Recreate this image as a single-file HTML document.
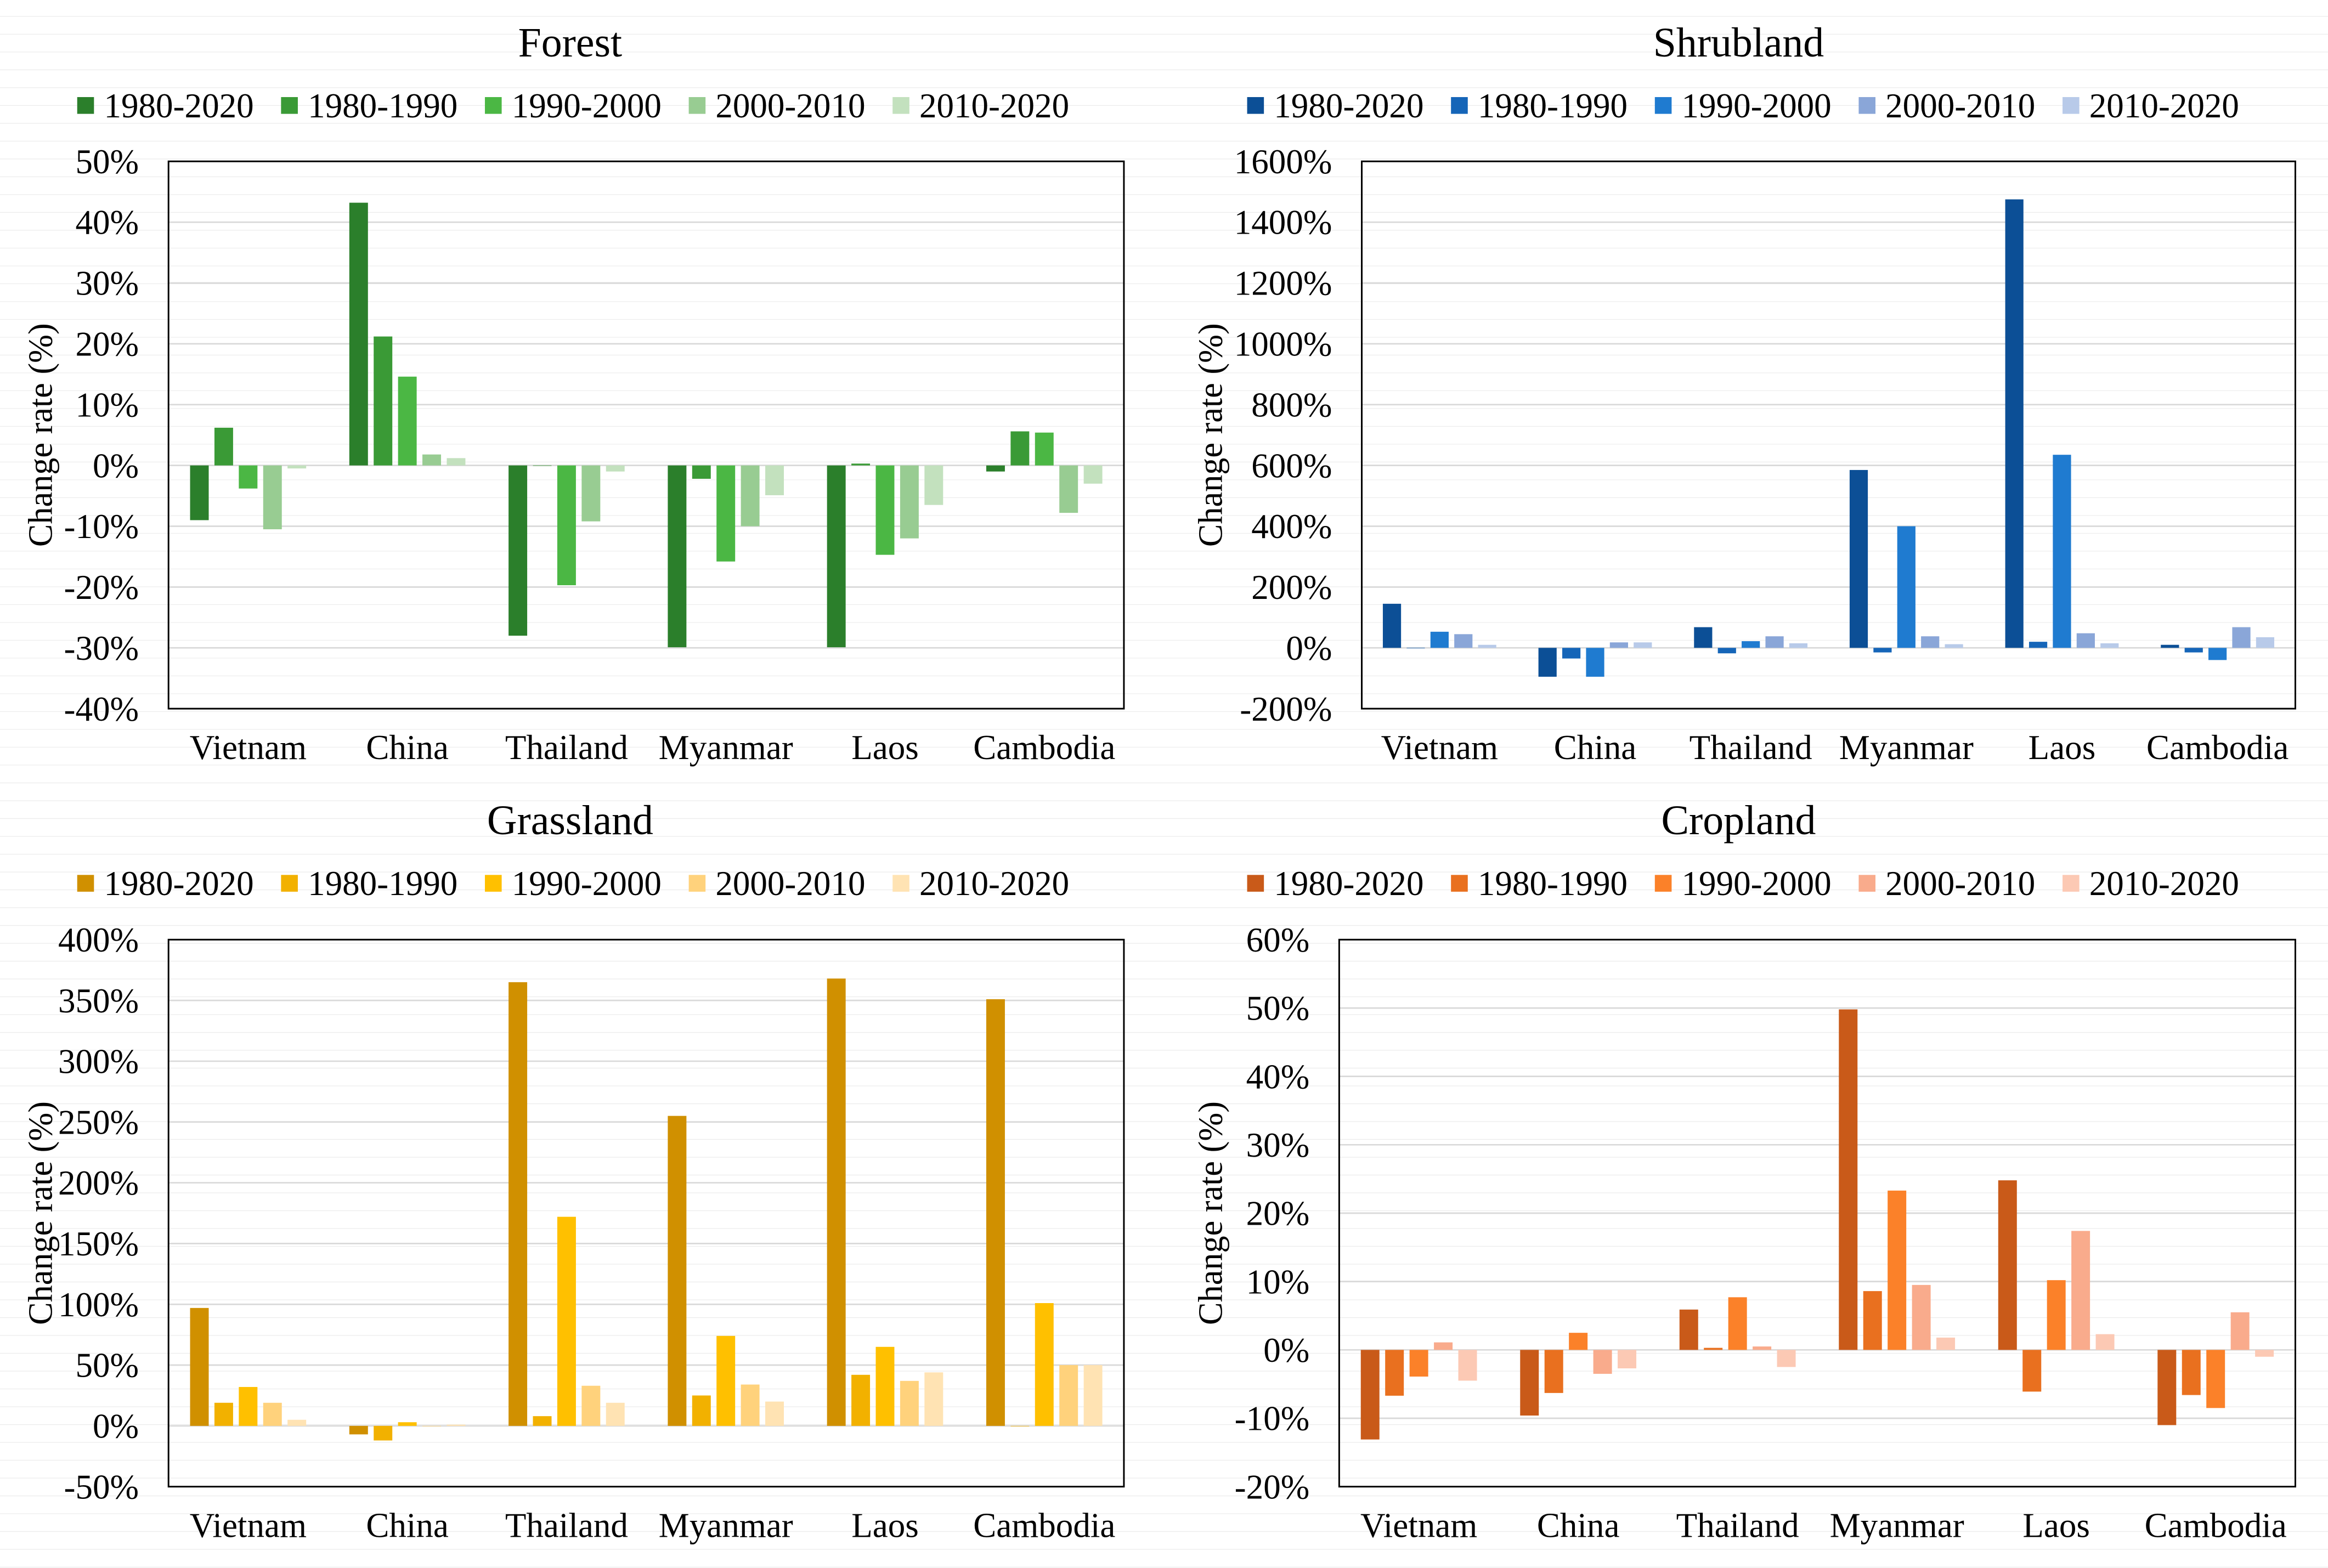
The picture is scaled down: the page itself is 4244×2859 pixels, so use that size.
<!DOCTYPE html>
<html><head><meta charset="utf-8">
<style>
html,body{margin:0;padding:0;background:#fff;}
svg{display:block;font-family:"Liberation Serif","Times New Roman",serif;}
</style></head>
<body>
<svg id="fig" width="4244" height="2859" viewBox="0 0 1568 1056.3" preserveAspectRatio="none" xmlns="http://www.w3.org/2000/svg"></svg>
<script>
const categories = ["Vietnam","China","Thailand","Myanmar","Laos","Cambodia"];
const seriesNames = ["1980-2020","1980-1990","1990-2000","2000-2010","2010-2020"];

const forestTitle = "Forest";
const forest1980_2020 = [-9, 43.2, -28, -29.9, -29.9, -1];
const forest1980_1990 = [6.2, 21.2, 0, -2.2, 0.3, 5.6];
const forest1990_2000 = [-3.8, 14.6, -19.7, -15.8, -14.7, 5.4];
const forest2000_2010 = [-10.5, 1.8, -9.2, -10, -12, -7.8];
const forest2010_2020 = [-0.5, 1.2, -1, -4.9, -6.5, -3];
const forestTicks = [-40,-30,-20,-10,0,10,20,30,40,50];

const shrubTitle = "Shrubland";
const shrub1980_2020 = [145, -95, 68, 585, 1475, 10];
const shrub1980_1990 = [0, -35, -18, -15, 20, -15];
const shrub1990_2000 = [53, -95, 22, 400, 635, -40];
const shrub2000_2010 = [45, 18, 38, 38, 48, 68];
const shrub2010_2020 = [10, 18, 15, 12, 15, 35];
const shrubTicks = [-200,0,200,400,600,800,1000,1200,1400,1600];

const grassTitle = "Grassland";
const grass1980_2020 = [97, -7, 365, 255, 368, 351];
const grass1980_1990 = [19, -12, 8, 25, 42, 0];
const grass1990_2000 = [32, 3, 172, 74, 65, 101];
const grass2000_2010 = [19, 0, 33, 34, 37, 50];
const grass2010_2020 = [5, 1, 19, 20, 44, 50];
const grassTicks = [-50,0,50,100,150,200,250,300,350,400];

const cropTitle = "Cropland";
const crop1980_2020 = [-13.1, -9.6, 5.9, 49.8, 24.8, -11];
const crop1980_1990 = [-6.7, -6.3, 0.3, 8.6, -6.1, -6.6];
const crop1990_2000 = [-3.9, 2.5, 7.7, 23.3, 10.2, -8.5];
const crop2000_2010 = [1.1, -3.5, 0.5, 9.5, 17.4, 5.5];
const crop2010_2020 = [-4.5, -2.7, -2.5, 1.8, 2.3, -1];
const cropTicks = [-20,-10,0,10,20,30,40,50,60];

const NS = "http://www.w3.org/2000/svg";
const svg = document.getElementById("fig");
function mk(tag, attrs, parent){
  const e = document.createElementNS(NS, tag);
  for (const k in attrs) e.setAttribute(k, attrs[k]);
  (parent||svg).appendChild(e);
  return e;
}

const bg = mk("g", {});


for (let y = 11.05; y < 1056.3; y += 12.008) {
  mk("line", {x1:0, x2:1568, y1:y, y2:y, stroke:"#ececec", "stroke-width":0.45}, bg);
}

const panels = [
  {key:"forest", title:forestTitle, series:[forest1980_2020,forest1980_1990,forest1990_2000,forest2000_2010,forest2010_2020], ticks:forestTicks,
   colors:["#2b7f2b","#3a9a36","#4bb744","#98cc92","#c3e1be"], L:113.5, R:757, T:108.7, B:477.4, titleX:384, titleY:38, legX:52, yTitleX:35},
  {key:"shrubland", title:shrubTitle, series:[shrub1980_2020,shrub1980_1990,shrub1990_2000,shrub2000_2010,shrub2010_2020], ticks:shrubTicks,
   colors:["#0c4f96","#1565b8","#1f7bd0","#8aa6d8","#b8cae9"], L:917.2, R:1546, T:108.7, B:477.4, titleX:1171, titleY:38, legX:840, yTitleX:823},
  {key:"grassland", title:grassTitle, series:[grass1980_2020,grass1980_1990,grass1990_2000,grass2000_2010,grass2010_2020], ticks:grassTicks,
   colors:["#d09000","#f2b100","#ffc000","#ffd27c","#ffe3b3"], L:113.5, R:757, T:633, B:1001.5, titleX:384, titleY:562, legX:52, yTitleX:35},
  {key:"cropland", title:cropTitle, series:[crop1980_2020,crop1980_1990,crop1990_2000,crop2000_2010,crop2010_2020], ticks:cropTicks,
   colors:["#c95a19","#e9701f","#fb8129","#f9ab8c","#fcc9b4"], L:902, R:1546, T:633, B:1001.5, titleX:1171, titleY:562, legX:840, yTitleX:823}
];

panels.forEach(p => {
  const g = mk("g", {});
  
  
  const tmin = p.ticks[0], tmax = p.ticks[p.ticks.length-1];
  const yS = v => p.B - (v - tmin) / (tmax - tmin) * (p.B - p.T);
  const cat = (p.R - p.L) / categories.length;
  const pitch = cat * 0.153, bw = cat * 0.117;
  const off = (cat - (4 * pitch + bw)) / 2;
  const xS = (ci, si) => p.L + ci * cat + off + si * pitch;

  const t = mk("text", {x:p.titleX, y:p.titleY, "text-anchor":"middle", "font-size":28, fill:"#000"}, g);
  t.textContent = p.title;
  
  

  seriesNames.forEach((n, i) => {
    const lg = mk("g", {}, g);
    
    
    const lx = p.legX + i * 137.3;
    const ly = p.titleY + 33;
    mk("rect", {x:lx, y:ly - 5.6, width:11.3, height:11.3, fill:p.colors[i]}, lg);
    const lt = mk("text", {x:lx + 18, y:ly + 8, "font-size":23.3, fill:"#000"}, lg);
    lt.textContent = n;
  });

  p.ticks.forEach(v => {
    const y = yS(v);
    const gl = mk("line", {x1:p.L, x2:p.R, y1:y, y2:y, stroke:"#d9d9d9", "stroke-width":1}, g);
    
    
    const tl = mk("text", {x:p.L - 20, y:y + 8, "text-anchor":"end", "font-size":23.3, fill:"#000"}, g);
    tl.textContent = v + "%";
    
    
  });

  p.series.forEach((arr, si) => {
    arr.forEach((v, ci) => {
      const y0 = yS(0), y1 = yS(v);
      const r = mk("rect", {x:xS(ci, si), y:Math.min(y0, y1), width:bw, height:Math.max(Math.abs(y1 - y0), 0.3), fill:p.colors[si]}, g);
      
      
    });
  });

  const fr = mk("rect", {x:p.L, y:p.T, width:p.R - p.L, height:p.B - p.T, fill:"none", stroke:"#000", "stroke-width":1.1}, g);
  
  

  categories.forEach((c, ci) => {
    const cl = mk("text", {x:p.L + (ci + 0.5) * cat, y:p.B + 34, "text-anchor":"middle", "font-size":23.3, fill:"#000"}, g);
    cl.textContent = c;
    
    
  });

  const cy = (p.T + p.B) / 2;
  const yt = mk("text", {x:p.yTitleX, y:cy, "text-anchor":"middle", "font-size":23, fill:"#000", transform:"rotate(-90 " + p.yTitleX + " " + cy + ")"}, g);
  yt.textContent = "Change rate (%)";
  
  
});
</script>
</body></html>
